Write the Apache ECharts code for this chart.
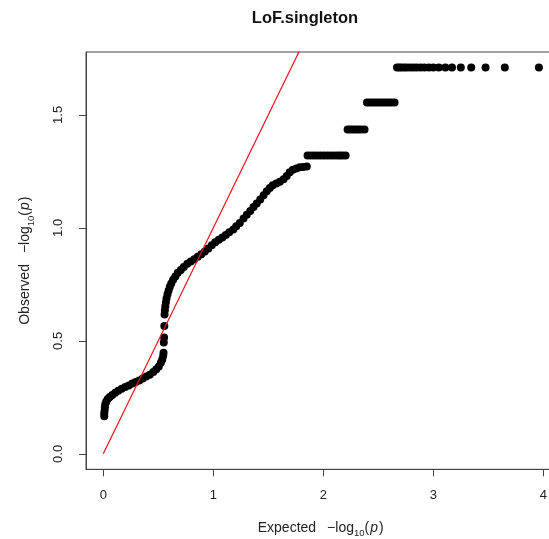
<!DOCTYPE html>
<html>
<head>
<meta charset="utf-8">
<script src="https://cdn.jsdelivr.net/npm/echarts@6/dist/echarts.min.js"></script>
<style>
  html, body { margin: 0; padding: 0; background: #fff; }
  #chart { width: 549px; height: 539px; }
</style>
</head>
<body>
<div id="chart"></div>
<script>
// QQ plot of LoF singleton p-values: expected vs observed -log10(p)
const expected = [
  0.009, 0.009, 0.012, 0.015, 0.018, 0.027, 0.041, 0.059, 0.082, 0.109,
  0.136, 0.168, 0.200, 0.232, 0.264, 0.295, 0.327, 0.359, 0.391, 0.423,
  0.455, 0.482, 0.505, 0.523, 0.536, 0.545, 0.548,
  0.550, 0.553, 0.555,
  0.557, 0.560, 0.564, 0.569, 0.575, 0.584, 0.594, 0.605, 0.618, 0.635,
  0.655, 0.677, 0.705, 0.732, 0.764, 0.795, 0.827, 0.859, 0.891, 0.923,
  0.955, 0.986, 1.018, 1.050, 1.082, 1.114, 1.145, 1.182,
  1.209, 1.241, 1.275, 1.305, 1.336, 1.366, 1.395, 1.427, 1.457, 1.486,
  1.514, 1.541, 1.573, 1.605, 1.639, 1.668, 1.695, 1.723, 1.755, 1.786,
  1.818, 1.850,
  1.857, 1.885, 1.915, 1.945, 1.975, 2.005, 2.035, 2.065, 2.095, 2.125,
  2.150, 2.175, 2.203,
  2.221, 2.245, 2.270, 2.295, 2.320, 2.345, 2.375,
  2.397, 2.420, 2.445, 2.470, 2.495, 2.520, 2.545, 2.570, 2.595, 2.620,
  2.648,
  2.670, 2.690, 2.710, 2.735, 2.760, 2.790, 2.820, 2.850, 2.885, 2.920,
  2.960, 3.000, 3.050, 3.110, 3.170, 3.250, 3.345, 3.475, 3.650, 3.960
];
const observed = [
  0.166, 0.179, 0.192, 0.206, 0.219, 0.232, 0.243, 0.252, 0.260, 0.270,
  0.279, 0.288, 0.296, 0.303, 0.311, 0.318, 0.325, 0.333, 0.342, 0.350,
  0.362, 0.374, 0.387, 0.403, 0.418, 0.434, 0.447,
  0.493, 0.515, 0.566,
  0.617, 0.635, 0.653, 0.670, 0.688, 0.706, 0.723, 0.739, 0.754, 0.770,
  0.785, 0.801, 0.814, 0.827, 0.841, 0.851, 0.861, 0.872, 0.883, 0.896,
  0.909, 0.923, 0.936, 0.947, 0.958, 0.969, 0.981, 0.993,
  1.007, 1.022, 1.041, 1.058, 1.075, 1.092, 1.108, 1.126, 1.144, 1.162,
  1.177, 1.189, 1.196, 1.204, 1.215, 1.230, 1.246, 1.257, 1.263, 1.268,
  1.270, 1.272,
  1.320, 1.320, 1.320, 1.320, 1.320, 1.320, 1.320, 1.320, 1.320, 1.320,
  1.320, 1.320, 1.320,
  1.435, 1.435, 1.435, 1.435, 1.435, 1.435, 1.435,
  1.555, 1.555, 1.555, 1.555, 1.555, 1.555, 1.555, 1.555, 1.555, 1.555,
  1.555,
  1.710, 1.710, 1.710, 1.710, 1.710, 1.710, 1.710, 1.710, 1.710, 1.710,
  1.710, 1.710, 1.710, 1.710, 1.710, 1.710, 1.710, 1.710, 1.710, 1.710
];
// identity reference line y = x
const identityEnds = [0, 1.85];
const xTicks = [0, 1, 2, 3, 4];
const yTicks = [0, 0.5, 1, 1.5];
const yTickLabels = ['0.0', '0.5', '1.0', '1.5'];

const FONT = '"Liberation Sans", Arial, sans-serif';
const TXT = '#222';
const AX = '#444';

const points = expected.map((e, i) => [e, observed[i]]);
const identity = identityEnds.map(v => [v, v]);

const richName = {
  t: { fontSize: 14, fontFamily: FONT, color: TXT, lineHeight: 19, verticalAlign: 'middle' },
  g: { fontSize: 14, fontFamily: FONT, color: TXT, lineHeight: 19, verticalAlign: 'middle', width: 11 },
  s: { fontSize: 9.5, fontFamily: FONT, color: TXT, height: 8, verticalAlign: 'bottom' },
  i: { fontSize: 14, fontFamily: FONT, color: TXT, fontStyle: 'italic', lineHeight: 19, verticalAlign: 'middle', padding: [0, 1, 0, 1] }
};

const chart = echarts.init(document.getElementById('chart'), null, { renderer: 'canvas' });
chart.setOption({
  animation: false,
  backgroundColor: '#fff',
  graphic: [{
    type: 'text',
    x: 305, y: 18,
    style: {
      text: 'LoF.singleton',
      font: 'bold 16.5px ' + FONT,
      fill: '#111',
      align: 'center',
      verticalAlign: 'middle'
    }
  }],
  grid: {
    left: 86, top: 52, width: 469.4, height: 417.3,
    outerBoundsMode: 'none',
    containLabel: false,
    show: true, borderColor: AX, borderWidth: 1, backgroundColor: 'transparent'
  },
  xAxis: {
    type: 'value',
    min: -0.157, max: 4.11,
    splitLine: { show: false },
    axisLine: { show: true, onZero: false, lineStyle: { color: AX, width: 1 } },
    axisTick: { show: true, customValues: xTicks, length: 7, lineStyle: { color: AX } },
    axisLabel: { customValues: xTicks, margin: 20, fontSize: 13, color: TXT, fontFamily: FONT },
    name: '{t|Expected}{g| }{t|\u2212log}{s|10}{t|(}{i|p}{t|)}',
    nameLocation: 'middle',
    nameGap: 49,
    nameTextStyle: { rich: richName }
  },
  yAxis: {
    type: 'value',
    min: -0.0684, max: 1.7784,
    splitLine: { show: false },
    axisLine: { show: true, onZero: false, lineStyle: { color: AX, width: 1 } },
    axisTick: { show: true, customValues: yTicks, length: 7, lineStyle: { color: AX } },
    axisLabel: {
      customValues: yTicks, rotate: 90, margin: 21, fontSize: 13, color: TXT, fontFamily: FONT,
      formatter: v => yTickLabels[yTicks.indexOf(v)] ?? ''
    },
    name: '{t|Observed}{g| }{t|\u2212log}{s|10}{t|(}{i|p}{t|)}',
    nameLocation: 'middle',
    nameGap: 51,
    nameRotate: 90,
    nameTextStyle: { rich: richName }
  },
  series: [
    {
      type: 'scatter',
      data: points,
      symbol: 'circle',
      symbolSize: 8,
      itemStyle: { color: '#000', opacity: 1 },
      z: 2,
      silent: true
    },
    {
      type: 'line',
      data: identity,
      showSymbol: false,
      symbol: 'none',
      clip: true,
      lineStyle: { color: '#e8141c', width: 1.2 },
      z: 3,
      silent: true
    }
  ]
});
</script>
</body>
</html>
